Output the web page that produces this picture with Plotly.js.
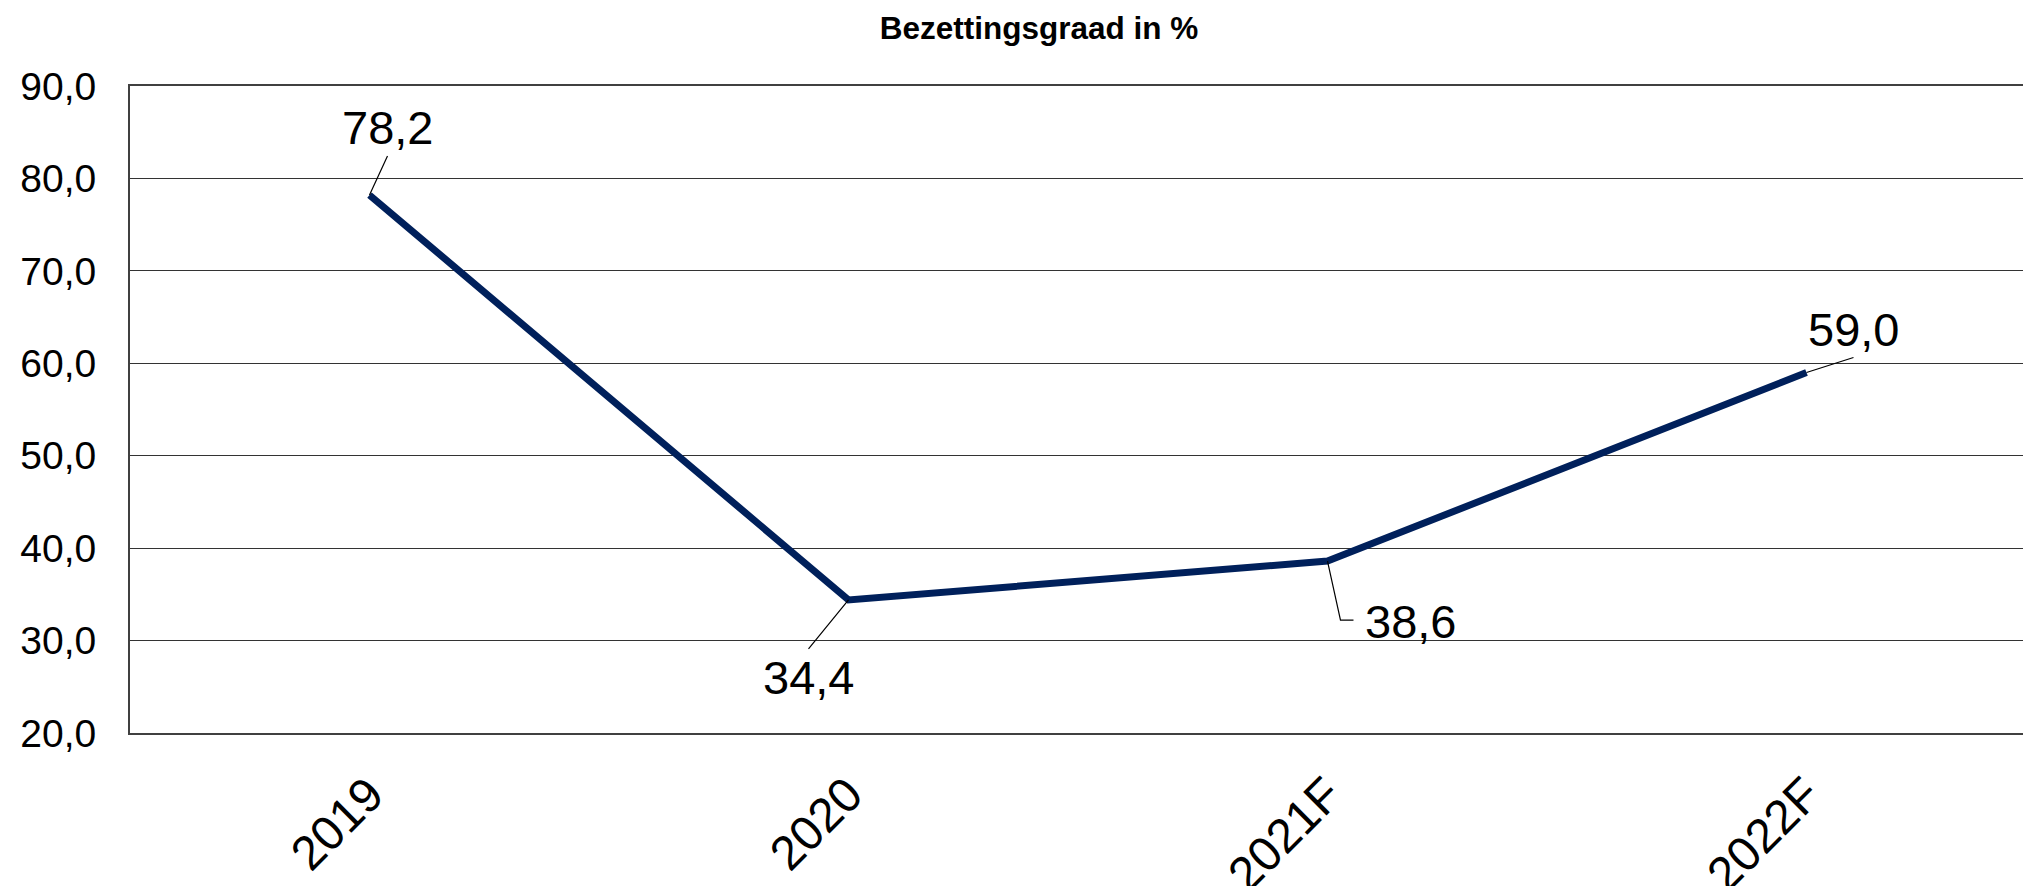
<!DOCTYPE html>
<html>
<head>
<meta charset="utf-8">
<script src="https://cdn.plot.ly/plotly-3.0.1.min.js"></script>
<style>html,body{margin:0;padding:0;background:#fff;}#chart{width:2023px;height:886px;}</style>
</head>
<body>
<div id="chart"></div>
<script>
// Data
const categories = ["2019", "2020", "2021F", "2022F"];
const occupancy = [78.2, 34.4, 38.6, 59.0];
const labelTexts = ["78,2", "34,4", "38,6", "59,0"];
const yTickVals = [20, 30, 40, 50, 60, 70, 80, 90];
const yTickText = ["20,0", "30,0", "40,0", "50,0", "60,0", "70,0", "80,0", "90,0"];

const FONT = "Liberation Sans, Arial, sans-serif";
const xIdx = categories.map((c, i) => i);

const trace = {
  x: xIdx,
  y: occupancy,
  type: "scatter",
  mode: "lines",
  line: { color: "#00205B", width: 7 },
  hoverinfo: "skip"
};

// label placement (pixel offsets from each point)
const labelCfg = [
  { ax: 18, ay: -39, xanchor: "center", yanchor: "bottom", arrow: true },
  { ax: -40, ay: 49, xanchor: "center", yanchor: "top", arrow: true },
  { ax: 36, ay: 60, xanchor: "left", yanchor: "middle", arrow: false },
  { ax: 47, ay: -15, xanchor: "center", yanchor: "bottom", arrow: true }
];

const annotations = occupancy.map((v, i) => {
  const c = labelCfg[i];
  if (c.arrow) {
    return {
      x: xIdx[i], y: v, xref: "x", yref: "y",
      text: labelTexts[i],
      showarrow: true, arrowhead: 0, arrowwidth: 1.2, arrowcolor: "#000",
      ax: c.ax, ay: c.ay, xanchor: c.xanchor, yanchor: c.yanchor,
      standoff: 0, startstandoff: 0,
      font: { family: FONT, size: 47, color: "#000" }
    };
  }
  return {
    x: xIdx[i], y: v, xref: "x", yref: "y",
    text: labelTexts[i], showarrow: false,
    xanchor: c.xanchor, yanchor: c.yanchor,
    xshift: c.ax, yshift: -c.ay,
    font: { family: FONT, size: 47, color: "#000" }
  };
});

// elbow leader line for the 2021F label
const shapes = [{
  type: "path",
  xref: "x", yref: "y",
  xsizemode: "pixel", ysizemode: "pixel",
  xanchor: xIdx[2], yanchor: occupancy[2],
  path: "M0,0 L13,-59 L26,-59",
  line: { color: "#000", width: 1.2 }
}];

const layout = {
  width: 2023, height: 886,
  margin: { l: 130, r: 0, t: 86, b: 153, pad: 0 },
  paper_bgcolor: "#fff", plot_bgcolor: "#fff",
  showlegend: false,
  title: {
    text: "<b>Bezettingsgraad in %</b>",
    font: { family: FONT, size: 31.5, color: "#000" },
    xref: "container", x: 1039 / 2023, xanchor: "center",
    yref: "container", y: 1 - 28 / 886, yanchor: "middle"
  },
  xaxis: {
    range: [-0.5, 3.452],
    tickvals: xIdx, ticktext: categories,
    tickangle: -45,
    tickfont: { family: FONT, size: 48, color: "#000" },
    showgrid: false, zeroline: false,
    showline: true, linecolor: "#404040", linewidth: 2, mirror: true,
    ticks: "", ticklabelstandoff: 12,
    fixedrange: true
  },
  yaxis: {
    range: [20, 90],
    tickvals: yTickVals, ticktext: yTickText,
    tickfont: { family: FONT, size: 39, color: "#000" },
    showgrid: true, gridcolor: "#333", gridwidth: 1,
    zeroline: false,
    showline: true, linecolor: "#404040", linewidth: 2,
    ticks: "", ticklabelstandoff: 24,
    fixedrange: true
  },
  annotations: annotations,
  shapes: shapes
};

Plotly.newPlot("chart", [trace], layout, { displayModeBar: false, staticPlot: true });
</script>
</body>
</html>
